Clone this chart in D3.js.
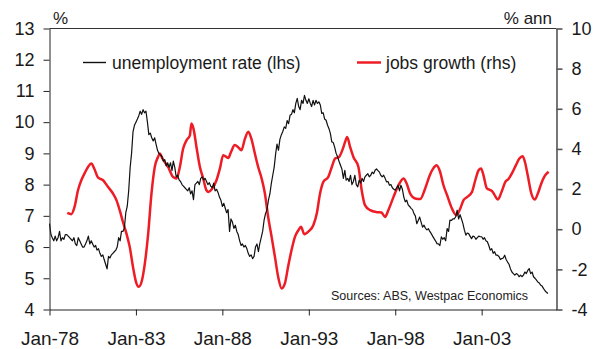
<!DOCTYPE html>
<html><head><meta charset="utf-8">
<script src="https://cdn.jsdelivr.net/npm/d3@7/dist/d3.min.js"></script>
<style>
html,body{margin:0;padding:0;background:#fff;}
svg{display:block;font-family:"Liberation Sans",Arial,sans-serif;}
</style></head>
<body>
<svg id="chart" width="609" height="349"></svg>
<script>
// Unemployment rate (lhs, %), monthly from Jan-1978
const unempStartYear = 1978;
const unempValues = [
 6.75,6.4,6.3,6.2,6.35,6.2,6.3,6.5,6.2,6.3,6.25,6.4,
 6.4,6.35,6.3,6.25,6.2,6.3,6.1,6.05,6.3,6.2,6.1,6.0,
 6.0,6.1,6.2,6.35,6.1,6.2,6.1,6.0,6.05,5.9,5.95,5.8,
 5.7,5.75,5.6,5.45,5.3,5.7,5.65,5.75,5.8,5.85,5.9,6.0,
 6.3,6.2,6.5,6.5,6.6,7.1,7.3,7.8,8.55,9.0,9.7,9.9,
 10.0,10.1,10.2,10.35,10.25,10.4,10.3,10.35,10.0,9.6,9.65,9.5,
 9.4,9.5,9.3,9.1,9.0,8.95,8.9,8.75,8.8,8.6,8.7,8.55,
 8.7,8.45,8.75,8.55,8.25,8.3,8.15,8.1,8.0,7.95,7.9,7.85,
 7.8,7.9,7.7,7.8,7.52,8.0,8.05,8.1,8.0,8.2,8.25,8.15,
 8.2,8.1,8.0,8.06,7.95,7.9,8.05,7.8,7.85,7.75,7.6,7.5,
 7.3,7.4,7.25,7.1,7.2,6.5,6.9,6.8,6.6,6.7,6.5,6.4,
 6.2,6.05,6.1,6.0,6.05,5.95,5.8,5.7,5.75,5.63,5.7,6.0,
 6.1,5.85,6.1,6.3,6.5,6.86,7.07,7.2,7.5,7.7,8.04,8.3,
 8.57,9.0,9.3,9.1,9.45,9.6,9.7,9.85,9.8,10.05,9.95,10.22,
 10.25,10.4,10.3,10.6,10.76,10.5,10.4,10.7,10.6,10.86,10.7,10.6,
 10.75,10.6,10.5,10.7,10.55,10.7,10.6,10.65,10.55,10.28,10.3,10.1,
 10.06,9.9,9.8,9.64,9.37,9.35,9.2,9.0,8.89,8.75,8.62,8.5,
 8.2,8.46,8.14,8.2,8.1,8.3,8.0,8.1,8.3,8.0,7.93,8.14,
 8.05,8.2,8.1,8.25,8.3,8.35,8.25,8.3,8.4,8.35,8.46,8.5,
 8.45,8.4,8.3,8.25,8.3,8.2,8.09,8.1,7.98,8.0,7.9,7.85,
 7.82,7.9,7.98,7.8,7.98,7.85,7.6,7.45,7.5,7.35,7.3,7.24,
 7.2,7.07,7.0,6.75,6.85,6.96,6.8,6.64,6.7,6.6,6.55,6.59,
 6.5,6.43,6.35,6.27,6.2,6.11,6.1,6.05,6.33,6.25,6.3,6.2,
 6.59,6.5,6.86,6.85,6.9,6.9,6.97,7.18,6.9,7.04,6.9,6.75,
 6.54,6.38,6.45,6.43,6.35,6.27,6.35,6.33,6.25,6.3,6.35,6.33,
 6.33,6.25,6.3,6.2,6.17,6.05,5.9,5.95,5.8,5.85,5.74,5.74,
 5.7,5.6,5.63,5.65,5.74,5.6,5.52,5.45,5.3,5.2,5.15,5.1,
 5.15,5.12,5.05,5.1,5.05,5.1,5.2,5.15,5.25,5.31,5.15,5.2,
 5.05,5.0,4.95,4.88,4.85,4.78,4.75,4.67,4.6,4.55,4.51
];

// Jobs growth (rhs, % annual) — decimal-year positions and values
const jobsYears = [
 1979.03,1979.26,1979.45,1979.65,1979.84,1980.03,1980.23,1980.42,1980.6,1980.8,
 1981.1,1981.38,1981.67,1981.87,1982.06,1982.25,1982.45,1982.64,1982.83,1983.03,
 1983.16,1983.35,1983.5,1983.7,1983.9,1984.09,1984.28,1984.38,1984.55,1984.86,
 1985.15,1985.35,1985.54,1985.73,1985.93,1986.12,1986.21,1986.33,1986.5,1986.7,
 1986.89,1987.08,1987.2,1987.4,1987.66,1987.86,1988.05,1988.34,1988.5,1988.72,
 1988.9,1989.1,1989.3,1989.5,1989.68,1989.88,1990.07,1990.27,1990.46,1990.65,
 1990.85,1991.04,1991.23,1991.43,1991.62,1991.8,1992.0,1992.2,1992.4,1992.55,
 1992.74,1993.0,1993.26,1993.46,1993.65,1993.84,1994.13,1994.33,1994.52,1994.75,
 1994.94,1995.1,1995.22,1995.39,1995.58,1995.87,1996.06,1996.25,1996.55,1996.93,
 1997.2,1997.41,1997.6,1997.9,1998.19,1998.48,1998.65,1998.86,1999.15,1999.44,
 1999.73,2000.0,2000.2,2000.4,2000.58,2000.79,2001.0,2001.28,2001.53,2001.76,
 2001.95,2002.15,2002.44,2002.63,2002.82,2002.96,2003.1,2003.3,2003.6,2003.75,
 2003.94,2004.15,2004.37,2004.55,2004.75,2004.98,2005.18,2005.37,2005.5,2005.68,
 2005.87,2006.07,2006.25,2006.45,2006.64,2006.87
];
const jobsValues = [
 0.81,0.75,1.11,1.94,2.44,2.78,3.1,3.27,3.0,2.58,
 2.44,2.11,1.78,1.45,0.95,0.36,-0.21,-0.88,-1.88,-2.7,
 -2.87,-2.54,-1.8,-0.3,1.78,3.1,3.6,3.77,3.5,3.1,
 2.6,2.53,3.1,4.02,4.44,4.68,5.27,5.0,4.1,3.1,
 2.53,1.94,1.86,2.0,2.44,3.03,3.69,3.55,3.85,4.19,
 4.1,3.94,4.5,4.85,4.5,3.77,3.1,2.53,1.78,0.61,
 -0.38,-1.38,-2.38,-2.95,-2.7,-1.88,-1.05,-0.38,-0.05,0.12,
 -0.25,-0.1,0.2,0.78,1.78,2.36,2.61,3.1,3.52,3.6,
 3.94,4.35,4.6,4.1,3.6,3.1,1.94,1.2,0.95,0.85,
 0.83,0.61,0.95,1.61,2.19,2.53,2.3,1.78,1.53,1.5,
 2.03,2.69,3.03,3.19,2.9,2.19,1.69,1.03,0.7,1.03,
 1.45,1.6,1.86,2.44,2.94,3.03,2.7,2.03,1.9,1.7,
 1.48,1.86,2.36,2.5,2.78,3.19,3.52,3.64,3.35,2.61,
 1.78,1.48,1.78,2.28,2.64,2.86
];

const leftTicks = [4,5,6,7,8,9,10,11,12,13];
const rightTicks = [-4,-2,0,2,4,6,8,10];
const xTickYears = [1978,1983,1988,1993,1998,2003];
const seriesNames = ["unemployment rate (lhs)", "jobs growth (rhs)"];
const sourceText = "Sources: ABS, Westpac Economics";

const decToDate = y => { const yr = Math.floor(y); const m = (y - yr) * 12; return new Date(yr, 0, 1 + Math.round(m * 30.44)); };

const unemp = unempValues.map((v, i) => ({ d: new Date(unempStartYear + Math.floor(i / 12), i % 12, 1), v }));
const jobs = jobsYears.map((y, i) => ({ d: decToDate(y), v: jobsValues[i] }));

const L = 49.5, R = 556.5, T = 28.5, B = 309.5;
const svg = d3.select("#chart");

const x = d3.scaleTime().domain([new Date(1978, 0, 1), new Date(2007, 4, 1)]).range([L, R]);
const yL = d3.scaleLinear().domain([4, 13]).range([B, T]);
const yR = d3.scaleLinear().domain([-4, 10]).range([B, T]);

const txt = "#1a1a1a";

// frame top
svg.append("line").attr("x1", L).attr("x2", R).attr("y1", T).attr("y2", T).attr("stroke", "#333").attr("stroke-width", 1);

// lines
svg.append("path").datum(jobs)
  .attr("fill", "none").attr("stroke", "#ee1c25").attr("stroke-width", 2.5).attr("stroke-linejoin", "round")
  .attr("d", d3.line().x(d => x(d.d)).y(d => yR(d.v)).curve(d3.curveMonotoneX));
svg.append("path").datum(unemp)
  .attr("fill", "none").attr("stroke", "#111").attr("stroke-width", 1.2).attr("stroke-linejoin", "round")
  .attr("d", d3.line().x(d => x(d.d)).y(d => yL(d.v)));

// axes
const gL = svg.append("g").attr("transform", `translate(${L},0)`)
  .call(d3.axisLeft(yL).tickValues(leftTicks).tickSize(6).tickSizeOuter(0).tickPadding(9));
const gR = svg.append("g").attr("transform", `translate(${R},0)`)
  .call(d3.axisRight(yR).tickValues(rightTicks).tickFormat(d3.format("d")).tickSize(6).tickSizeOuter(0).tickPadding(9));
const gX = svg.append("g").attr("transform", `translate(0,${B})`)
  .call(d3.axisBottom(x).tickValues(xTickYears.map(y => new Date(y, 0, 1)))
    .tickFormat(d3.timeFormat("Jan-%y")).tickSize(6).tickSizeOuter(0).tickPadding(16));

[gL, gX].forEach(g => { g.selectAll("path,line").attr("stroke", "#222").attr("stroke-width", 1); });
gR.selectAll("path,line").attr("stroke", "#555").attr("stroke-width", 1.6);
[gL, gR].forEach(g => g.selectAll("text").attr("fill", txt).style("font-size", "18px").style("font-family", "'Liberation Sans',Arial,sans-serif"));
gX.selectAll("text").attr("fill", txt).style("font-size", "19px").style("font-family", "'Liberation Sans',Arial,sans-serif");
gR.selectAll("text").text(d => String(d));

// axis unit labels
svg.append("text").attr("x", 53).attr("y", 24).attr("fill", txt).style("font-size", "17px").text("%");
svg.append("text").attr("x", 552).attr("y", 24).attr("text-anchor", "end").attr("fill", txt).style("font-size", "17px").text("% ann");

// legend
svg.append("line").attr("x1", 83).attr("x2", 106).attr("y1", 62.5).attr("y2", 62.5).attr("stroke", "#111").attr("stroke-width", 1.4);
svg.append("text").attr("x", 112).attr("y", 68.5).attr("fill", txt).style("font-size", "17.5px").text(seriesNames[0]);
svg.append("line").attr("x1", 357).attr("x2", 381).attr("y1", 62.5).attr("y2", 62.5).attr("stroke", "#ee1c25").attr("stroke-width", 2.5);
svg.append("text").attr("x", 386).attr("y", 68.5).attr("fill", txt).style("font-size", "17.5px").text(seriesNames[1]);

// source
svg.append("text").attr("x", 331).attr("y", 300).attr("fill", "#222").style("font-size", "12.5px").text(sourceText);
</script>
</body></html>
